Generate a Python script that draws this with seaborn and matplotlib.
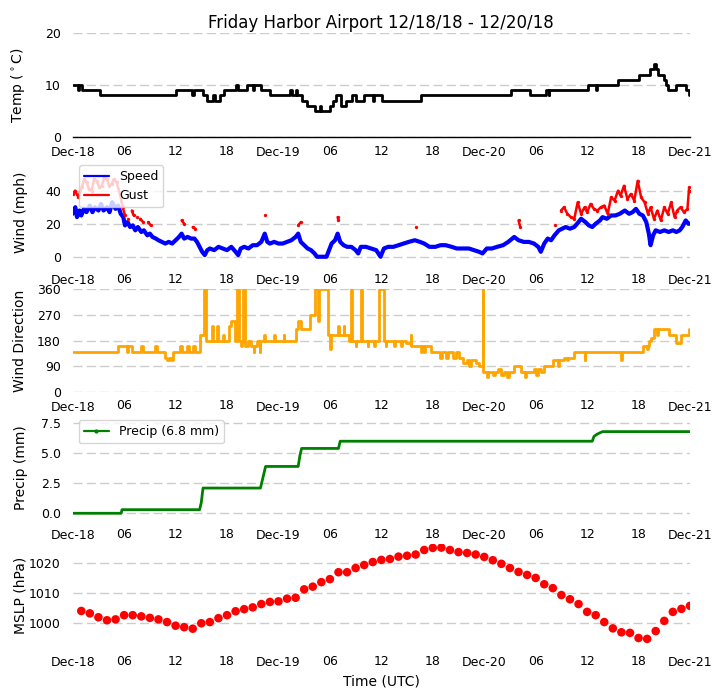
import datetime as dt
import numpy as np
import pandas as pd
import matplotlib
matplotlib.use("Agg")
import matplotlib.pyplot as plt
import matplotlib.dates as mdates
from matplotlib.lines import Line2D
import seaborn as sns

# ---------------- data (hours after 2018-12-18 00:00 UTC) ----------------
START = dt.datetime(2018, 12, 18, 0, 0)
TITLE = "Friday Harbor Airport 12/18/18 - 12/20/18"

# Temperature (deg C), value holds until next change
temp_hours = [0.0, 0.6, 0.75, 1.05, 3.2, 12.05, 13.9, 14.1, 15.2, 15.7, 16.4, 16.6, 17.2, 17.6,
              19.1, 19.3, 20.3, 21.0, 21.1, 22.0, 23.0, 25.3, 25.6, 26.0, 26.2, 26.7, 27.3,
              28.3, 28.8, 29.0, 30.0, 30.4, 30.7, 31.3, 31.9, 32.6, 33.0, 34.0, 35.0, 35.2,
              36.1, 40.6, 51.1, 53.3, 55.2, 55.5, 55.6, 60.1, 61.0, 61.1, 63.6, 66.1, 67.3,
              67.8, 68.0, 68.3, 69.0, 69.2, 69.4, 70.4, 71.5, 71.9, 72.0]
temp_vals = [10, 9, 10, 9, 8, 9, 8, 9, 8, 7, 8, 7, 8, 9,
             10, 9, 10, 9, 10, 9, 8, 9, 8, 9, 8, 7, 6,
             5, 6, 5, 6, 7, 8, 6, 7, 8, 7, 8, 7, 8,
             7, 8, 9, 8, 9, 8, 9, 10, 9, 10, 11, 12, 13,
             14, 13, 12, 11, 10, 9, 10, 9, 8, 8]

# Wind speed (mph)
speed_hours = [0.0, 0.3, 0.5, 0.8, 1.0, 1.3, 1.6, 2.0, 2.3, 2.6, 3.0, 3.3, 3.6, 4.0, 4.3, 4.6,
               5.0, 5.3, 5.6, 5.9, 6.1, 6.4, 6.7, 7.0, 7.3, 7.6, 8.0, 8.3, 8.7, 9.0, 9.3, 9.7,
               10.0, 10.4, 10.8, 11.2, 11.6, 12.0, 12.4, 12.7, 13.0, 13.4, 13.8, 14.2, 14.5,
               14.8, 15.1, 15.4, 15.7, 16.0, 16.5, 17.0, 17.5, 18.0, 18.5, 19.0, 19.3, 19.6,
               20.0, 20.5, 21.0, 21.5, 22.0, 22.4, 22.7, 23.0, 23.5, 24.0, 24.5, 25.0, 25.5,
               26.0, 26.3, 26.6, 27.0, 27.4, 27.8, 28.2, 28.5, 29.0, 29.6, 29.9, 30.2, 30.6,
               30.9, 31.2, 31.6, 32.0, 32.5, 33.0, 33.3, 33.6, 34.2, 34.8, 35.4, 35.9, 36.3,
               36.8, 37.4, 38.0, 38.6, 39.2, 39.9, 40.5, 41.0, 41.6, 42.3, 42.9, 43.5, 44.2,
               44.8, 45.5, 46.2, 46.8, 47.4, 47.8, 48.3, 48.9, 49.5, 50.2, 50.8, 51.5, 52.0,
               52.6, 53.2, 53.8, 54.3, 54.6, 55.0, 55.4, 55.8, 56.2, 56.7, 57.1, 57.5, 58.0,
               58.5, 59.0, 59.3, 59.8, 60.2, 60.6, 61.0, 61.5, 61.8, 62.3, 62.8, 63.3, 63.8,
               64.4, 64.9, 65.3, 65.7, 66.1, 66.5, 66.9, 67.2, 67.4, 67.7, 68.0, 68.5, 69.0,
               69.5, 70.0, 70.4, 70.8, 71.1, 71.5, 71.8, 72.0]
speed_vals = [26, 30, 24, 28, 25, 29, 27, 31, 27, 30, 28, 32, 28, 30, 27, 33,
              29, 31, 26, 24, 19, 21, 18, 19, 16, 18, 15, 16, 13, 14, 12, 11,
              10, 9, 8, 9, 8, 10, 12, 14, 11, 12, 11, 11, 9,
              6, 3, 1, 4, 5, 4, 6, 5, 4, 6, 3, 1, 5,
              6, 5, 7, 7, 9, 14, 9, 8, 9, 8, 8, 9, 10,
              12, 14, 9, 7, 5, 4, 2, 0, 0, 0, 4, 8, 10,
              14, 9, 7, 6, 6, 4, 2, 6, 6, 5, 4, 0, 5,
              6, 6, 7, 8, 9, 10, 9, 8, 6, 6, 7, 7, 6,
              5, 5, 5, 4, 3, 2, 5, 5, 6, 7, 9, 12, 10,
              9, 9, 8, 6, 3, 8, 11, 10, 13, 16, 17, 18, 17,
              18, 21, 23, 21, 19, 18, 20, 22, 24, 23, 25, 25, 26,
              28, 26, 27, 29, 26, 25, 21, 14, 7, 13, 16, 15, 16,
              15, 16, 15, 16, 18, 22, 20, 20]

# Wind gusts (mph); gust_seg groups consecutive reports
gust_hours = [0.0, 0.27, 0.66, 1.05, 1.35, 1.63, 1.9, 2.21, 2.5, 2.8, 3.1, 3.38, 3.7, 3.96,
              4.25, 4.54, 4.8, 5.12, 5.51, 5.83, 6.1,
              6.5, 6.9, 7.1, 7.5, 7.9, 8.2, 8.8, 9.1, 12.7, 13.0, 14.0, 14.3, 22.4, 26.3,
              26.6, 30.9, 31.0, 40.0, 52.0, 52.2, 56.2,
              56.95, 57.3, 57.7, 58.1, 58.5, 58.9, 59.3, 59.7, 60.0, 60.4, 60.8, 61.2, 61.6,
              62.0, 62.4, 62.8, 63.2, 63.6, 63.9, 64.3, 64.7, 65.1, 65.5, 65.9, 66.3, 66.7,
              67.1, 67.4, 67.8, 68.2, 68.6, 69.0, 69.4, 69.8, 70.2, 70.5, 70.9, 71.3, 71.7,
              71.9, 72.0]
gust_vals = [38, 40, 36, 42, 47, 45, 41, 40, 47, 46, 42, 43, 48, 47,
             43, 44, 47, 45, 38, 30, 25,
             23, 28, 25, 24, 23, 21, 21, 19, 22, 20, 18, 17, 25, 19,
             21, 24, 22, 18, 22, 18, 19,
             28, 30, 26, 24, 23, 33, 26, 30, 27, 32, 29, 28, 30,
             31, 26, 36, 34, 40, 37, 43, 35, 38, 34, 46, 36, 33,
             26, 30, 23, 28, 22, 30, 26, 33, 24, 28, 30, 27, 29,
             42, 40]
gust_seg = ([0] * 21
            + [1, 2, 2, 3, 4, 4, 5, 5, 6, 6, 7, 7, 8, 9, 9, 10, 10, 11, 12, 12, 13]
            + [14] * 41)

# Wind direction (deg), value holds until next change
dir_hours = [0.0, 5.3, 6.3, 6.4, 6.9, 8.0, 8.2, 9.6, 9.8, 10.8, 11.0, 11.2, 11.5, 11.7,
             12.5, 12.8, 13.3, 13.6, 14.0, 14.3, 14.85, 15.3, 15.6, 16.2, 16.4, 16.8, 17.0,
             17.5, 17.6, 18.2, 18.5, 18.9, 19.2, 19.4, 19.6, 19.7, 19.9, 20.1, 20.5, 20.8,
             21.1, 21.2, 21.5, 21.8, 21.9, 22.3, 22.4, 23.5, 23.6, 24.6, 24.7, 26.1, 26.3,
             26.6, 27.7, 28.3, 28.6, 28.7, 29.8, 30.0, 30.1, 31.0, 31.1, 31.6, 31.7, 32.2,
             32.5, 32.6, 33.0, 33.1, 33.6, 33.8, 34.4, 34.5, 35.2, 35.3, 35.76, 36.34, 36.5,
             36.6, 37.5, 37.6, 38.3, 38.4, 38.9, 39.45, 39.5, 40.6, 40.7, 41.0, 41.1, 41.8,
             42.8, 43.1, 43.5, 43.8, 44.3, 44.7, 45.1, 45.5, 46.0, 46.2, 46.45, 47.0, 47.4,
             47.8, 47.9, 48.3, 48.4, 49.0, 49.2, 49.6, 49.9, 50.3, 50.7, 50.9, 51.5, 52.3,
             52.8, 52.9, 53.8, 54.0, 54.3, 54.6, 55.0, 56.0, 56.6, 56.7, 57.3, 57.7, 57.8,
             58.5, 59.7, 59.8, 63.95, 64.05, 66.5, 67.0, 67.1, 67.25, 67.5, 67.8, 68.2, 68.3,
             69.6, 70.36, 70.9, 71.9, 72.0]
dir_vals = [140, 160, 140, 160, 140, 160, 140, 160, 140, 120, 110, 120, 110, 140,
            160, 140, 160, 140, 160, 140, 200, 360, 180, 230, 180, 230, 180,
            200, 180, 230, 250, 180, 360, 180, 160, 180, 360, 160, 180, 160,
            140, 160, 180, 140, 180, 200, 180, 200, 180, 200, 180, 220, 250,
            220, 270, 360, 250, 360, 200, 150, 200, 230, 200, 230, 200, 180,
            360, 180, 160, 180, 360, 180, 160, 180, 160, 180, 360, 180, 160,
            180, 160, 180, 160, 180, 170, 200, 160, 140, 160, 140, 160, 140,
            120, 140, 120, 140, 120, 140, 120, 100, 110, 90, 110, 100, 90,
            360, 70, 50, 70, 60, 70, 80, 60, 70, 50, 70, 90, 70,
            50, 70, 80, 60, 80, 70, 90, 110, 90, 110, 120, 110, 120,
            140, 110, 140, 110, 140, 160, 150, 160, 180, 190, 220, 200, 220,
            200, 170, 200, 220, 220]

# Accumulated precipitation (mm)
precip_hours = [0.0, 5.65, 5.75, 14.8, 15.0, 15.1, 15.2, 21.9, 22.2, 22.5, 26.3, 26.5, 26.7,
                31.0, 31.2, 60.6, 60.8, 61.2, 61.8, 72.0]
precip_vals = [0.0, 0.0, 0.3, 0.3, 0.9, 1.5, 2.1, 2.1, 3.0, 3.9, 3.9, 4.8, 5.4,
               5.4, 6.0, 6.0, 6.4, 6.6, 6.8, 6.8]
precip_total = "6.8"

# Hourly mean sea level pressure (hPa)
mslp_hours = list(range(1, 73))
mslp_vals = [1004.1, 1003.3, 1002.0, 1001.0, 1001.3, 1002.7, 1002.7, 1002.3, 1001.8, 1001.3,
             1000.4, 999.2, 998.7, 998.2, 1000.0, 1000.4, 1001.7, 1002.7, 1004.0, 1004.7,
             1005.3, 1006.4, 1007.1, 1007.3, 1008.2, 1008.5, 1011.3, 1012.2, 1013.7, 1014.7,
             1017.0, 1017.0, 1018.4, 1019.4, 1020.4, 1021.1, 1021.4, 1022.2, 1022.5, 1022.9,
             1024.4, 1025.1, 1025.2, 1024.4, 1023.7, 1023.4, 1022.9, 1022.1, 1021.0, 1019.8,
             1018.4, 1017.1, 1016.1, 1015.1, 1013.0, 1011.7, 1009.4, 1008.0, 1006.4, 1003.8,
             1002.7, 1000.4, 998.3, 997.0, 996.8, 995.1, 994.8, 997.4, 1000.8, 1003.8,
             1004.8, 1005.8]


def to_time(hours):
    return [START + dt.timedelta(hours=float(h)) for h in hours]


# ---------------- style ----------------
sns.set_theme(style="whitegrid")
plt.rcParams["font.family"] = ["DejaVu Sans"]
plt.rcParams["text.color"] = "black"
plt.rcParams["axes.labelcolor"] = "black"
plt.rcParams["xtick.color"] = "black"
plt.rcParams["ytick.color"] = "black"

W, H = 722.0, 700.0
LEFT, RIGHT = 72.7, 690.0
fig = plt.figure(figsize=(7.22, 7.0), dpi=100)


def add_axes(top, bottom):
    return fig.add_axes([LEFT / W, 1 - bottom / H, (RIGHT - LEFT) / W, (bottom - top) / H])


ax_t = add_axes(33, 137)
ax_w = add_axes(160, 265)
ax_d = add_axes(289.3, 391.7)
ax_p = add_axes(416, 520)
ax_m = add_axes(544, 647)
axes = [ax_t, ax_w, ax_d, ax_p, ax_m]

# temperature
sns.lineplot(x=to_time(temp_hours), y=temp_vals, ax=ax_t, color="black", lw=2.0,
             drawstyle="steps-post", estimator=None, sort=False)
# wind speed & gust
sns.lineplot(x=to_time(speed_hours), y=speed_vals, ax=ax_w, color="blue", lw=3.0,
             estimator=None, sort=False)
gust_df = pd.DataFrame({"time": to_time(gust_hours), "gust": gust_vals, "seg": gust_seg})
sns.lineplot(data=gust_df, x="time", y="gust", units="seg", estimator=None, ax=ax_w,
             color="red", lw=1.8, marker="o", markersize=2.4, markeredgewidth=0, sort=False)
# direction
sns.lineplot(x=to_time(dir_hours), y=dir_vals, ax=ax_d, color="orange", lw=2.0,
             drawstyle="steps-post", estimator=None, sort=False)
# precip
sns.lineplot(x=to_time(precip_hours), y=precip_vals, ax=ax_p, color="green", lw=2.0,
             estimator=None, sort=False)
# mslp
sns.scatterplot(x=to_time(mslp_hours), y=mslp_vals, ax=ax_m, color="red", s=38,
                edgecolor="none")

# ---------------- axes formatting ----------------
ax_t.set_ylim(0, 20)
ax_t.set_yticks([0, 10, 20])
ax_w.set_ylim(-5, 58.6)
ax_w.set_yticks([0, 20, 40])
ax_d.set_ylim(0, 360)
ax_d.set_yticks([0, 90, 180, 270, 360])
ax_p.set_ylim(-0.56, 8.1)
ax_p.set_yticks([0, 2.5, 5, 7.5])
ax_p.set_yticklabels(["0.0", "2.5", "5.0", "7.5"])
ax_m.set_ylim(992.1, 1026.4)
ax_m.set_yticks([1000, 1010, 1020])

ylabels = [r"Temp ($^\circ$C)", "Wind (mph)", "Wind Direction", "Precip (mm)", "MSLP (hPa)"]
x0, x1 = START, START + dt.timedelta(days=3)
for ax, lab in zip(axes, ylabels):
    ax.set_xlim(x0, x1)
    ax.xaxis.set_major_locator(mdates.DayLocator())
    ax.xaxis.set_major_formatter(mdates.DateFormatter("%b-%d"))
    ax.xaxis.set_minor_locator(mdates.HourLocator(byhour=[6, 12, 18]))
    ax.xaxis.set_minor_formatter(mdates.DateFormatter("%H"))
    ax.tick_params(axis="x", which="major", length=0, pad=6.5, labelsize=9)
    ax.tick_params(axis="x", which="minor", length=0, pad=5.5, labelsize=9)
    ax.tick_params(axis="y", which="both", length=0, pad=8.5, labelsize=9)
    ax.grid(False, axis="x", which="both")
    ax.grid(True, axis="y", which="major", color="0.8", linestyle=(0, (6.5, 3.1)), linewidth=1)
    for sp in ax.spines.values():
        sp.set_visible(False)
    ax.set_xlabel("")
    ax.set_ylabel(lab, fontsize=10)
    ax.yaxis.set_label_coords((27.5 - LEFT) / (RIGHT - LEFT), 0.5)

ax_t.spines["bottom"].set_visible(True)
ax_t.spines["bottom"].set_color("black")
ax_t.spines["bottom"].set_linewidth(1.0)

ax_t.set_title(TITLE, fontsize=12, pad=3.5)
ax_m.set_xlabel("Time (UTC)", fontsize=10)

# legends
h_speed = Line2D([], [], color="blue", lw=1.6)
h_gust = Line2D([], [], color="red", lw=1.6)
ax_w.legend([h_speed, h_gust], ["Speed", "Gust"], loc="upper left", fontsize=9,
            bbox_to_anchor=((79 - LEFT) / (RIGHT - LEFT), (265 - 165) / (265 - 160)),
            borderaxespad=0, frameon=True, framealpha=0.8, edgecolor="0.8", fancybox=True)
h_p = Line2D([], [], color="green", lw=1.6, marker="o", markersize=2)
ax_p.legend([h_p], [f"Precip ({precip_total} mm)"], loc="upper left", fontsize=9,
            bbox_to_anchor=((78.7 - LEFT) / (RIGHT - LEFT), (520 - 420) / (520 - 416)),
            borderaxespad=0, frameon=True, framealpha=0.8, edgecolor="0.8", fancybox=True)

fig.savefig("out.png", dpi=100)
